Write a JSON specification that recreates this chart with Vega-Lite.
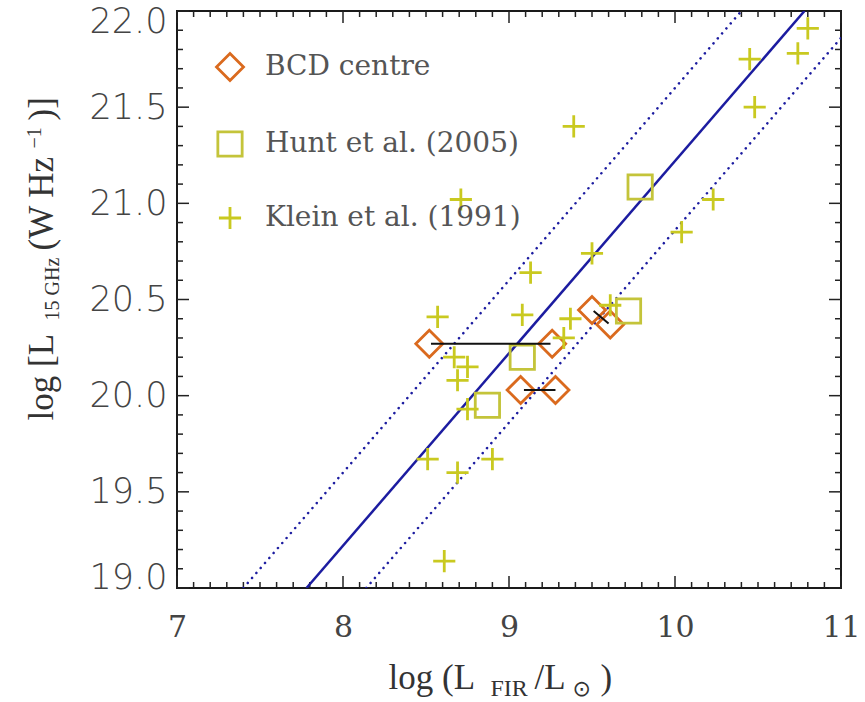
{
  "$schema": "https://vega.github.io/schema/vega-lite/v6.json",
  "width": 664,
  "height": 577,
  "autosize": {"type": "none"},
  "padding": {"left": 177, "top": 11, "right": 24, "bottom": 114},
  "background": "white",
  "config": {
    "view": {"stroke": "#1a1a1a", "strokeWidth": 2},
    "axis": {
      "grid": false,
      "domain": false,
      "ticks": false,
      "labelColor": "#444",
      "titleColor": "#333",
      "titleFont": "Liberation Serif",
      "titleFontWeight": "normal",
      "titleBaseline": "alphabetic",
      "titleAlign": "left"
    }
  },
  "datasets": {
    "upper": [{"x": 7.40, "y": 19.0}, {"x": 10.40, "y": 22.0}],
    "lower": [{"x": 8.14, "y": 19.0}, {"x": 11.0, "y": 21.86}],
    "fit": [{"x": 7.78, "y": 19.0}, {"x": 10.78, "y": 22.0}],
    "points": [
      {"series": "BCD centre", "x": 8.52, "y": 20.27},
      {"series": "BCD centre", "x": 9.26, "y": 20.27},
      {"series": "BCD centre", "x": 9.07, "y": 20.03},
      {"series": "BCD centre", "x": 9.28, "y": 20.03},
      {"series": "BCD centre", "x": 9.50, "y": 20.445},
      {"series": "BCD centre", "x": 9.61, "y": 20.37},
      {"series": "Hunt et al. (2005)", "x": 9.08, "y": 20.20},
      {"series": "Hunt et al. (2005)", "x": 8.87, "y": 19.95},
      {"series": "Hunt et al. (2005)", "x": 9.72, "y": 20.44},
      {"series": "Hunt et al. (2005)", "x": 9.79, "y": 21.085},
      {"series": "Klein et al. (1991)", "x": 8.61, "y": 19.14},
      {"series": "Klein et al. (1991)", "x": 8.51, "y": 19.67},
      {"series": "Klein et al. (1991)", "x": 8.69, "y": 19.60},
      {"series": "Klein et al. (1991)", "x": 8.90, "y": 19.67},
      {"series": "Klein et al. (1991)", "x": 8.75, "y": 19.93},
      {"series": "Klein et al. (1991)", "x": 8.57, "y": 20.41},
      {"series": "Klein et al. (1991)", "x": 8.67, "y": 20.20},
      {"series": "Klein et al. (1991)", "x": 8.69, "y": 20.08},
      {"series": "Klein et al. (1991)", "x": 8.75, "y": 20.15},
      {"series": "Klein et al. (1991)", "x": 8.71, "y": 21.02},
      {"series": "Klein et al. (1991)", "x": 9.13, "y": 20.64},
      {"series": "Klein et al. (1991)", "x": 9.08, "y": 20.42},
      {"series": "Klein et al. (1991)", "x": 9.37, "y": 20.40},
      {"series": "Klein et al. (1991)", "x": 9.33, "y": 20.30},
      {"series": "Klein et al. (1991)", "x": 9.61, "y": 20.47},
      {"series": "Klein et al. (1991)", "x": 9.39, "y": 21.40},
      {"series": "Klein et al. (1991)", "x": 9.50, "y": 20.74},
      {"series": "Klein et al. (1991)", "x": 10.04, "y": 20.85},
      {"series": "Klein et al. (1991)", "x": 10.23, "y": 21.02},
      {"series": "Klein et al. (1991)", "x": 10.45, "y": 21.75},
      {"series": "Klein et al. (1991)", "x": 10.48, "y": 21.50},
      {"series": "Klein et al. (1991)", "x": 10.74, "y": 21.78},
      {"series": "Klein et al. (1991)", "x": 10.80, "y": 21.91}
    ],
    "bars": [
      {"x": 8.53, "x2": 9.25, "y": 20.27, "y2": 20.27},
      {"x": 9.09, "x2": 9.28, "y": 20.03, "y2": 20.03},
      {"x": 9.51, "x2": 9.60, "y": 20.44, "y2": 20.375}
    ],
    "xmajor": [{"t": 7}, {"t": 8}, {"t": 9}, {"t": 10}, {"t": 11}],
    "xminor": [
      {"t": 7.1}, {"t": 7.2}, {"t": 7.3}, {"t": 7.4}, {"t": 7.5}, {"t": 7.6}, {"t": 7.7}, {"t": 7.8}, {"t": 7.9},
      {"t": 8.1}, {"t": 8.2}, {"t": 8.3}, {"t": 8.4}, {"t": 8.5}, {"t": 8.6}, {"t": 8.7}, {"t": 8.8}, {"t": 8.9},
      {"t": 9.1}, {"t": 9.2}, {"t": 9.3}, {"t": 9.4}, {"t": 9.5}, {"t": 9.6}, {"t": 9.7}, {"t": 9.8}, {"t": 9.9},
      {"t": 10.1}, {"t": 10.2}, {"t": 10.3}, {"t": 10.4}, {"t": 10.5}, {"t": 10.6}, {"t": 10.7}, {"t": 10.8}, {"t": 10.9}
    ],
    "yt": [
      {"v": 19.0, "kind": "major"}, {"v": 19.1, "kind": "minor"}, {"v": 19.2, "kind": "minor"}, {"v": 19.3, "kind": "minor"}, {"v": 19.4, "kind": "minor"},
      {"v": 19.5, "kind": "major"}, {"v": 19.6, "kind": "minor"}, {"v": 19.7, "kind": "minor"}, {"v": 19.8, "kind": "minor"}, {"v": 19.9, "kind": "minor"},
      {"v": 20.0, "kind": "major"}, {"v": 20.1, "kind": "minor"}, {"v": 20.2, "kind": "minor"}, {"v": 20.3, "kind": "minor"}, {"v": 20.4, "kind": "minor"},
      {"v": 20.5, "kind": "major"}, {"v": 20.6, "kind": "minor"}, {"v": 20.7, "kind": "minor"}, {"v": 20.8, "kind": "minor"}, {"v": 20.9, "kind": "minor"},
      {"v": 21.0, "kind": "major"}, {"v": 21.1, "kind": "minor"}, {"v": 21.2, "kind": "minor"}, {"v": 21.3, "kind": "minor"}, {"v": 21.4, "kind": "minor"},
      {"v": 21.5, "kind": "major"}, {"v": 21.6, "kind": "minor"}, {"v": 21.7, "kind": "minor"}, {"v": 21.8, "kind": "minor"}, {"v": 21.9, "kind": "minor"},
      {"v": 22.0, "kind": "major"}
    ]
  },
  "layer": [
    {
      "data": {"name": "yt"},
      "mark": {"type": "point", "shape": "M0,0L1,0", "filled": false, "stroke": "#222", "strokeWidth": 1.5, "opacity": 1},
      "encoding": {
        "y": {"field": "v", "type": "quantitative", "scale": {"domain": [19, 22], "nice": false, "zero": false}, "axis": null},
        "x": {"datum": 7, "type": "quantitative", "scale": {"domain": [7, 11], "nice": false, "zero": false}, "axis": null},
        "size": {"field": "kind", "type": "nominal", "scale": {"domain": ["major", "minor"], "range": [576, 144]}, "legend": null}
      }
    },
    {
      "data": {"name": "yt"},
      "mark": {"type": "point", "shape": "M0,0L-1,0", "filled": false, "stroke": "#222", "strokeWidth": 1.5, "opacity": 1},
      "encoding": {
        "y": {"field": "v", "type": "quantitative", "scale": {"domain": [19, 22], "nice": false, "zero": false}, "axis": null},
        "x": {"datum": 11, "type": "quantitative", "scale": {"domain": [7, 11], "nice": false, "zero": false}, "axis": null},
        "size": {"field": "kind", "type": "nominal", "scale": {"domain": ["major", "minor"], "range": [576, 144]}, "legend": null}
      }
    },
    {
      "data": {"name": "xmajor"},
      "mark": {"type": "rule", "color": "#222", "strokeWidth": 1.5, "opacity": 1},
      "encoding": {
        "x": {"field": "t", "type": "quantitative", "scale": {"domain": [7, 11], "nice": false, "zero": false}, "axis": null},
        "y": {"datum": 19, "type": "quantitative", "scale": {"domain": [19, 22], "nice": false, "zero": false}, "axis": null},
        "y2": {"datum": 19.0624}
      }
    },
    {
      "data": {"name": "xminor"},
      "mark": {"type": "rule", "color": "#222", "strokeWidth": 1.5, "opacity": 1},
      "encoding": {
        "x": {"field": "t", "type": "quantitative", "scale": {"domain": [7, 11], "nice": false, "zero": false}, "axis": null},
        "y": {"datum": 19, "type": "quantitative", "scale": {"domain": [19, 22], "nice": false, "zero": false}, "axis": null},
        "y2": {"datum": 19.0312}
      }
    },
    {
      "data": {"name": "xmajor"},
      "mark": {"type": "rule", "color": "#222", "strokeWidth": 1.5, "opacity": 1},
      "encoding": {
        "x": {"field": "t", "type": "quantitative", "scale": {"domain": [7, 11], "nice": false, "zero": false}, "axis": null},
        "y": {"datum": 22, "type": "quantitative", "scale": {"domain": [19, 22], "nice": false, "zero": false}, "axis": null},
        "y2": {"datum": 21.9376}
      }
    },
    {
      "data": {"name": "xminor"},
      "mark": {"type": "rule", "color": "#222", "strokeWidth": 1.5, "opacity": 1},
      "encoding": {
        "x": {"field": "t", "type": "quantitative", "scale": {"domain": [7, 11], "nice": false, "zero": false}, "axis": null},
        "y": {"datum": 22, "type": "quantitative", "scale": {"domain": [19, 22], "nice": false, "zero": false}, "axis": null},
        "y2": {"datum": 21.9688}
      }
    },
    {
      "data": {"name": "upper"},
      "mark": {"type": "line", "color": "#1c1ca0", "strokeWidth": 2.5, "strokeDash": [0.1, 6.5], "strokeCap": "round", "clip": true},
      "encoding": {
        "x": {"field": "x", "type": "quantitative", "scale": {"domain": [7, 11], "nice": false, "zero": false},
          "axis": {"orient": "bottom", "values": [7, 8, 9, 10, 11], "labelPadding": 24, "labelFont": "DejaVu Serif", "labelFontSize": 30, "labelFlush": false,
            "title": "log  (L", "titleFontSize": 35, "titleX": 211, "titleY": 100}},
        "y": {"field": "y", "type": "quantitative", "scale": {"domain": [19, 22], "nice": false, "zero": false},
          "axis": {"orient": "left", "values": [19, 19.5, 20, 20.5, 21, 21.5, 22], "format": ".1f", "labelPadding": 10, "labelFont": "DejaVu Sans", "labelFontSize": 35, "labelFontWeight": 300, "labelFlush": true, "labelFlushOffset": 7,
            "title": "log  [L", "titleFontSize": 35, "titleAngle": -90, "titleX": -125, "titleY": 409}}
      }
    },
    {
      "data": {"name": "lower"},
      "mark": {"type": "line", "color": "#1c1ca0", "strokeWidth": 2.5, "strokeDash": [0.1, 6.5], "strokeCap": "round", "clip": true},
      "encoding": {
        "x": {"field": "x", "type": "quantitative", "scale": {"domain": [7, 11], "nice": false, "zero": false},
          "axis": {"orient": "bottom", "values": [7], "labels": false,
            "title": "FIR", "titleFontSize": 24, "titleX": 313, "titleY": 107}},
        "y": {"field": "y", "type": "quantitative", "scale": {"domain": [19, 22], "nice": false, "zero": false},
          "axis": {"orient": "left", "values": [19], "labels": false,
            "title": "15 GHz", "titleFontSize": 20, "titleAngle": -90, "titleX": -119, "titleY": 309}}
      }
    },
    {
      "data": {"name": "fit"},
      "mark": {"type": "line", "color": "#1c1ca0", "strokeWidth": 2.5, "clip": true},
      "encoding": {
        "x": {"field": "x", "type": "quantitative", "scale": {"domain": [7, 11], "nice": false, "zero": false},
          "axis": {"orient": "bottom", "values": [7], "labels": false,
            "title": "/L", "titleFontSize": 35, "titleX": 357, "titleY": 100}},
        "y": {"field": "y", "type": "quantitative", "scale": {"domain": [19, 22], "nice": false, "zero": false},
          "axis": {"orient": "left", "values": [19], "labels": false,
            "title": "(W  Hz", "titleFontSize": 35, "titleAngle": -90, "titleX": -125, "titleY": 239}}
      }
    },
    {
      "data": {"name": "points"},
      "mark": {"type": "point", "filled": false, "size": 729, "strokeWidth": 2.8, "opacity": 1, "clip": true},
      "encoding": {
        "x": {"field": "x", "type": "quantitative", "scale": {"domain": [7, 11], "nice": false, "zero": false},
          "axis": {"orient": "top", "values": [7], "labels": false,
            "title": "⊙", "titleFont": "DejaVu Sans", "titleFontSize": 22, "titleX": 395, "titleY": 684}},
        "y": {"field": "y", "type": "quantitative", "scale": {"domain": [19, 22], "nice": false, "zero": false},
          "axis": {"orient": "right", "values": [19], "labels": false,
            "title": "−1", "titleFontSize": 20, "titleAngle": -90, "titleX": -801, "titleY": 137}},
        "color": {"field": "series", "type": "nominal",
          "scale": {"domain": ["BCD centre", "Hunt et al. (2005)", "Klein et al. (1991)"], "range": ["#da6a1e", "#c4c43a", "#c9c920"]},
          "legend": {"title": null, "orient": "none", "legendX": 38, "legendY": 41, "padding": 0, "labelFont": "DejaVu Serif", "labelFontSize": 28, "labelColor": "#555", "labelLimit": 500, "symbolSize": 729, "symbolStrokeWidth": 2.8, "rowPadding": 39, "labelOffset": 20}},
        "shape": {"field": "series", "type": "nominal",
          "scale": {"domain": ["BCD centre", "Hunt et al. (2005)", "Klein et al. (1991)"], "range": ["M0,-1L1,0L0,1L-1,0Z", "M-0.9,-0.9L0.9,-0.9L0.9,0.9L-0.9,0.9Z", "M-0.82,0L0.82,0M0,-0.82L0,0.82"]},
          "legend": {"title": null, "orient": "none", "legendX": 38, "legendY": 41, "padding": 0, "labelFont": "DejaVu Serif", "labelFontSize": 28, "labelColor": "#555", "labelLimit": 500, "symbolSize": 729, "symbolStrokeWidth": 2.8, "rowPadding": 39, "labelOffset": 20}}
      }
    },
    {
      "data": {"name": "bars"},
      "mark": {"type": "rule", "color": "#111", "strokeWidth": 2},
      "encoding": {
        "x": {"field": "x", "type": "quantitative", "scale": {"domain": [7, 11], "nice": false, "zero": false},
          "axis": {"orient": "top", "values": [7], "labels": false,
            "title": ")", "titleFontSize": 35, "titleX": 423, "titleY": 677}},
        "x2": {"field": "x2"},
        "y": {"field": "y", "type": "quantitative", "scale": {"domain": [19, 22], "nice": false, "zero": false},
          "axis": {"orient": "right", "values": [19], "labels": false,
            "title": ")]", "titleFontSize": 35, "titleAngle": -90, "titleX": -789, "titleY": 109}},
        "y2": {"field": "y2"}
      }
    }
  ],
  "resolve": {"axis": {"x": "independent", "y": "independent"}}
}
